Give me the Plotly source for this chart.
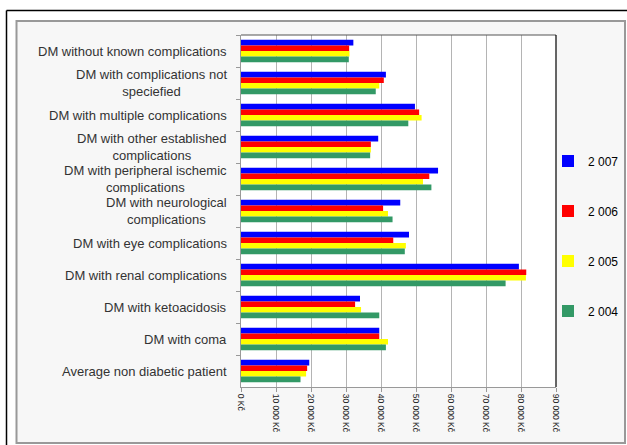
import plotly.graph_objects as go

categories = [
    "DM without known complications",
    "DM with complications not<br>speciefied",
    "DM with multiple complications",
    "DM with other established<br>complications",
    "DM with peripheral ischemic<br>complications",
    "DM with neurological<br>complications",
    "DM with eye complications",
    "DM with renal complications",
    "DM with ketoacidosis",
    "DM with coma",
    "Average non diabetic patient",
]

years = ["2 007", "2 006", "2 005", "2 004"]
v2007 = [32100, 41400, 49700, 39200, 56300, 45500, 48000, 79400, 34000, 39500, 19500]
v2006 = [30900, 40800, 50900, 37100, 53800, 40600, 43500, 81500, 32600, 39500, 18900]
v2005 = [31000, 39500, 51600, 37100, 52000, 42000, 47100, 81400, 34300, 42000, 18600]
v2004 = [30800, 38500, 47800, 36900, 54400, 43300, 46800, 75600, 39500, 41400, 17000]
series = [v2007, v2006, v2005, v2004]
colors = ["#0000ff", "#ff0000", "#ffff00", "#339966"]

tick_vals = [0, 10000, 20000, 30000, 40000, 50000, 60000, 70000, 80000, 90000]
tick_text = ["0 Kč", "10 000 Kč", "20 000 Kč", "30 000 Kč", "40 000 Kč",
             "50 000 Kč", "60 000 Kč", "70 000 Kč", "80 000 Kč", "90 000 Kč"]

W, H = 627, 445
L, R, T, B = 241, 556, 35, 387

def px(x):
    return (x - L) / (R - L)

def py(y):
    return (B - y) / (B - T)

fig = go.Figure()
for name, vals, col in zip(years, series, colors):
    fig.add_trace(go.Bar(
        y=categories, x=vals, name=name, orientation="h",
        marker=dict(color=col, line=dict(width=0)),
        legendgroup=name,
    ))

shapes = [
    # outer light panel
    dict(type="rect", xref="paper", yref="paper", layer="below",
         x0=px(16.5), x1=px(625), y0=py(21), y1=py(443),
         fillcolor="#f7f7f7", line=dict(color="#999999", width=2)),
    # outer black lines
    dict(type="line", xref="paper", yref="paper", layer="below",
         x0=px(6.5), x1=px(630), y0=py(10.5), y1=py(10.5),
         line=dict(color="#000000", width=1.5)),
    dict(type="line", xref="paper", yref="paper", layer="below",
         x0=px(6.5), x1=px(6.5), y0=py(10.5), y1=py(450),
         line=dict(color="#000000", width=1.5)),
    # plot area
    dict(type="rect", xref="paper", yref="paper", layer="below",
         x0=0, x1=1, y0=0, y1=1, fillcolor="#ffffff", line=dict(width=0)),
    dict(type="line", xref="paper", yref="paper",
         x0=0, x1=1, y0=1, y1=1, line=dict(color="#555555", width=1.2)),
    dict(type="line", xref="paper", yref="paper",
         x0=1, x1=1, y0=0, y1=1, line=dict(color="#000000", width=1.2)),
]

annotations = []
for c in categories:
    annotations.append(dict(
        x=0, xref="paper", y=c, yref="y", xanchor="right", yanchor="middle",
        xshift=-12, text=c, showarrow=False, align="center",
        font=dict(family="Liberation Sans, Arial", size=13, color="#333333"),
    ))

fig.update_layout(
    width=W, height=H,
    margin=dict(l=L, r=W - R, t=T, b=H - B, autoexpand=False),
    paper_bgcolor="#ffffff",
    plot_bgcolor="rgba(0,0,0,0)",
    barmode="group", bargap=0.3, bargroupgap=0,
    font=dict(family="Liberation Sans, Arial", size=12, color="#000000"),
    shapes=shapes, annotations=annotations,
    showlegend=True,
    legend=dict(x=px(548), xanchor="left", y=py(236), yanchor="middle",
                traceorder="grouped", tracegroupgap=31,
                bgcolor="rgba(0,0,0,0)", font=dict(size=12, color="#000000"),
                itemwidth=30),
    xaxis=dict(range=[0, 90000], tickvals=tick_vals, ticktext=tick_text,
               tickangle=90, tickfont=dict(size=8.5, color="#222222"),
               showgrid=True, gridcolor="#b4b4b4", gridwidth=1,
               showline=True, linecolor="#999999", linewidth=1,
               ticks="outside", ticklen=4, tickcolor="#999999",
               zeroline=False, fixedrange=True),
    yaxis=dict(type="category", categoryorder="array", categoryarray=categories,
               autorange="reversed", showticklabels=False,
               ticks="outside", tickson="boundaries", ticklen=4,
               tickcolor="#999999", showline=True, linecolor="#999999",
               linewidth=1, showgrid=False, zeroline=False, fixedrange=True),
)

fig.write_html("out.html")
